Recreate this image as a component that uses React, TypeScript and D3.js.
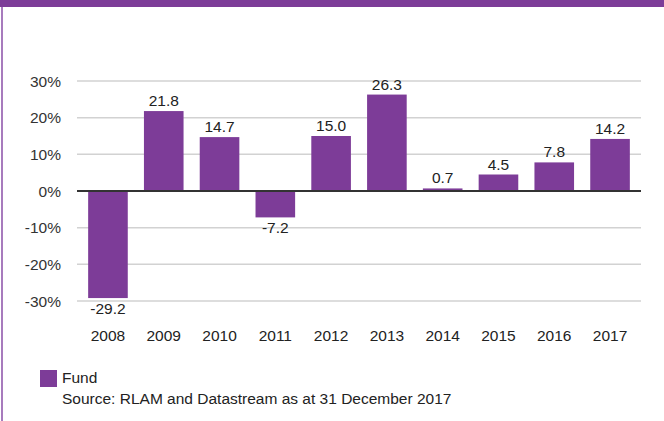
import React, { useEffect, useRef } from "react";
import * as d3 from "d3";

const years = ["2008", "2009", "2010", "2011", "2012", "2013", "2014", "2015", "2016", "2017"];
const fundReturns = [-29.2, 21.8, 14.7, -7.2, 15.0, 26.3, 0.7, 4.5, 7.8, 14.2];
const yTicks = [-30, -20, -10, 0, 10, 20, 30];
const seriesName = "Fund";
const sourceNote = "Source: RLAM and Datastream as at 31 December 2017";

const PURPLE = "#7d3c98";
const FONT = "'Liberation Sans', Arial, Helvetica, sans-serif";
const FS = 15.5;

const App = () => {
  const svgRef = useRef<SVGSVGElement>(null);

  useEffect(() => {
    const svg = d3.select(svgRef.current);
    svg.selectAll("*").remove();

    const width = 664;
    const height = 421;

    svg.attr("width", width).attr("height", height).style("background", "white");

    // frame: top band and thin left rule
    svg.append("rect").attr("x", 0).attr("y", 0).attr("width", width).attr("height", 7).attr("fill", PURPLE);
    svg.append("rect").attr("x", 1).attr("y", 7).attr("width", 2).attr("height", height - 7).attr("fill", "#a77bbd");

    const x = d3
      .scaleBand()
      .domain(years)
      .range([77, 641])
      .paddingInner(0.29)
      .paddingOuter(0.2);
    const y = d3.scaleLinear().domain([-30, 30]).range([301, 81]);

    // gridlines
    svg
      .append("g")
      .selectAll("line")
      .data(yTicks.filter((t) => t !== 0))
      .join("line")
      .attr("x1", 77)
      .attr("x2", 641)
      .attr("y1", (d) => y(d))
      .attr("y2", (d) => y(d))
      .attr("stroke", "#d2d2d2")
      .attr("stroke-width", 1.5);

    // y tick labels
    svg
      .append("g")
      .selectAll("text")
      .data(yTicks)
      .join("text")
      .attr("x", 61)
      .attr("y", (d) => y(d))
      .attr("dy", "0.36em")
      .attr("text-anchor", "end")
      .attr("font-family", FONT)
      .attr("font-size", FS)
      .attr("fill", "#333")
      .text((d) => `${d}%`);

    // bars
    svg
      .append("g")
      .selectAll("rect")
      .data(fundReturns)
      .join("rect")
      .attr("x", (_, i) => x(years[i]))
      .attr("width", x.bandwidth())
      .attr("y", (d) => y(Math.max(0, d)))
      .attr("height", (d) => Math.abs(y(d) - y(0)))
      .attr("fill", PURPLE);

    // zero line
    svg
      .append("line")
      .attr("x1", 77)
      .attr("x2", 641)
      .attr("y1", y(0))
      .attr("y2", y(0))
      .attr("stroke", "#333")
      .attr("stroke-width", 2);

    // value labels
    svg
      .append("g")
      .selectAll("text")
      .data(fundReturns)
      .join("text")
      .attr("x", (_, i) => x(years[i]) + x.bandwidth() / 2)
      .attr("y", (d) => (d >= 0 ? y(d) - 5 : y(d) + 16))
      .attr("text-anchor", "middle")
      .attr("font-family", FONT)
      .attr("font-size", FS)
      .attr("fill", "#222")
      .text((d) => d.toFixed(1));

    // year labels
    svg
      .append("g")
      .selectAll("text")
      .data(years)
      .join("text")
      .attr("x", (d) => x(d) + x.bandwidth() / 2)
      .attr("y", 341)
      .attr("text-anchor", "middle")
      .attr("font-family", FONT)
      .attr("font-size", FS)
      .attr("fill", "#222")
      .text((d) => d);

    // legend
    svg.append("rect").attr("x", 40).attr("y", 370).attr("width", 17).attr("height", 17).attr("fill", PURPLE);
    svg
      .append("text")
      .attr("x", 62)
      .attr("y", 383)
      .attr("font-family", FONT)
      .attr("font-size", FS)
      .attr("fill", "#222")
      .text(seriesName);
    svg
      .append("text")
      .attr("x", 62)
      .attr("y", 404)
      .attr("font-family", FONT)
      .attr("font-size", FS)
      .attr("fill", "#222")
      .text(sourceNote);
  }, []);

  return (
    <div style={{ position: "absolute", left: 0, top: 0 }}>
      <svg ref={svgRef}></svg>
    </div>
  );
};

export default App;
